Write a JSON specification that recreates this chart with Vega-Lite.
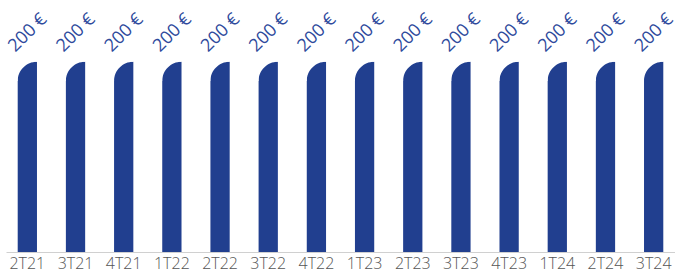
{
  "$schema": "https://vega.github.io/schema/vega-lite/v6.json",
  "width": 669,
  "height": 252,
  "autosize": {"type": "none"},
  "padding": {"left": 6, "top": 0, "right": 0, "bottom": 20},
  "background": "white",
  "config": {"view": {"stroke": null}},
  "data": {"values": [
    {"q": "2T21", "v": 200}, {"q": "3T21", "v": 200}, {"q": "4T21", "v": 200},
    {"q": "1T22", "v": 200}, {"q": "2T22", "v": 200}, {"q": "3T22", "v": 200},
    {"q": "4T22", "v": 200}, {"q": "1T23", "v": 200}, {"q": "2T23", "v": 200},
    {"q": "3T23", "v": 200}, {"q": "4T23", "v": 200}, {"q": "1T24", "v": 200},
    {"q": "2T24", "v": 200}, {"q": "3T24", "v": 200}
  ]},
  "encoding": {
    "x": {"field": "q", "type": "nominal", "sort": null,
      "scale": {"paddingInner": 0.6, "paddingOuter": 0.243},
      "axis": {"title": null, "labelAngle": 0, "ticks": false, "tickSize": 0, "domainColor": "#d0d0d0",
        "labelFont": "Open Sans", "labelFontWeight": 300, "labelFontSize": 16, "labelColor": "#555555", "labelPadding": 3}},
    "y": {"field": "v", "type": "quantitative", "scale": {"domain": [0, 265]}, "axis": null}
  },
  "layer": [
    {"mark": {"type": "bar", "color": "#213f8f"}},
    {"mark": {"type": "point", "filled": true, "color": "white", "opacity": 1, "strokeWidth": 0, "size": 4,
      "shape": "M -10.8 -1 L 9.64 -1 L 9.64 0 A 19.3 19.3 0 0 0 -9.64 19.3 L -10.8 19.3 Z"}},
    {"mark": {"type": "text", "angle": -45, "align": "left", "baseline": "alphabetic",
      "font": "Open Sans", "fontSize": 18, "color": "#2e4a9c", "xOffset": -12, "yOffset": -9},
     "encoding": {"text": {"value": "200 €"}}}
  ]
}
